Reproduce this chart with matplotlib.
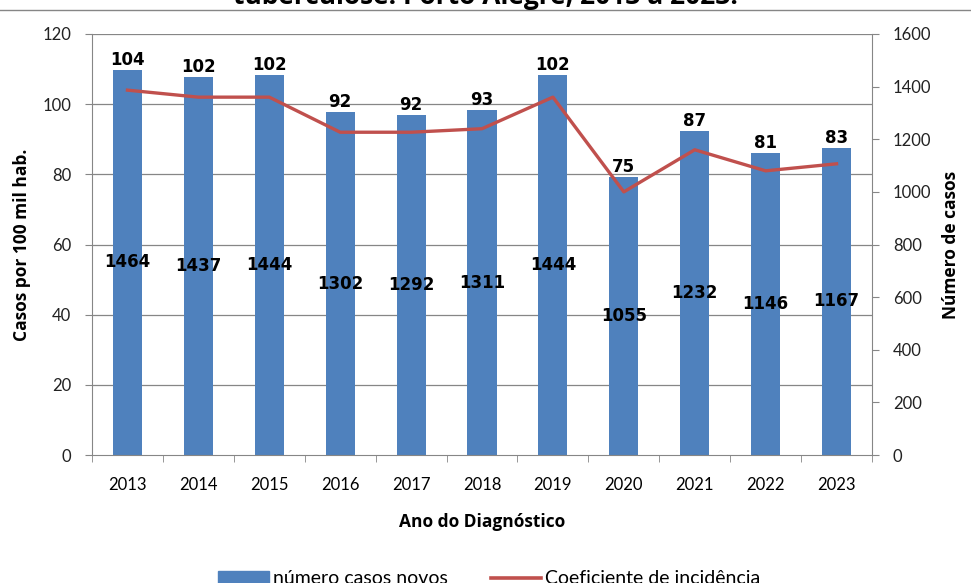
import matplotlib.pyplot as plt

anos = ['2013', '2014', '2015', '2016', '2017', '2018', '2019', '2020', '2021', '2022', '2023']
casos_novos = [1464, 1437, 1444, 1302, 1292, 1311, 1444, 1055, 1232, 1146, 1167]
coeficiente = [104, 102, 102, 92, 92, 93, 102, 75, 87, 81, 83]

azul = '#4F81BD'
vermelho = '#C0504D'
cinza = '#868686'

fig = plt.figure(figsize=(9.71, 5.83), dpi=100)
ax = fig.add_axes([92 / 971, 1 - 455 / 583, 780 / 971, 421 / 583])  # barras (eixo direito)
ax2 = ax.twinx()  # linha (eixo esquerdo)

x = list(range(len(anos)))

# barras
ax.bar(x, casos_novos, width=0.41, color=azul, zorder=2)
ax.set_ylim(0, 1600)
ax.set_xlim(-0.5, len(anos) - 0.5)
ax.yaxis.tick_right()
ax.yaxis.set_label_position('right')
ax.set_yticks(range(0, 1601, 200))

# linhas de grade do eixo esquerdo, atras das barras
for v in range(20, 121, 20):
    ax.axhline(v * 1600 / 120, color=cinza, lw=0.9, zorder=0)

# linha do coeficiente
ax2.plot(x, coeficiente, color=vermelho, lw=2.4, zorder=3)
ax2.set_ylim(0, 120)
ax2.yaxis.tick_left()
ax2.yaxis.set_label_position('left')
ax2.set_yticks(range(0, 121, 20))

# rotulos
for i in x:
    ax.text(i, casos_novos[i] + 4, str(coeficiente[i]), ha='center', va='bottom',
            fontsize=12, fontweight='bold', family='DejaVu Sans', zorder=5)
    ax.text(i, casos_novos[i] / 2, str(casos_novos[i]), ha='center', va='center',
            fontsize=12, fontweight='bold', family='DejaVu Sans', zorder=5)

# eixo x com ticks entre categorias
ax.set_xticks(x)
ax.set_xticklabels(anos, fontsize=12, family='Lato')
ax.tick_params(axis='x', length=0, pad=16)
ax.set_xticks([i - 0.5 for i in range(len(anos) + 1)], minor=True)
ax.tick_params(axis='x', which='minor', length=5, color=cinza, direction='out')

for a in (ax, ax2):
    for s in a.spines.values():
        s.set_visible(False)
ax.spines['bottom'].set_visible(True)
ax.spines['bottom'].set_color(cinza)
ax2.spines['left'].set_visible(True)
ax2.spines['left'].set_color(cinza)
ax2.spines['right'].set_visible(True)
ax2.spines['right'].set_color(cinza)

ax.tick_params(axis='y', length=5, color=cinza, labelsize=12, pad=10)
ax2.tick_params(axis='y', length=5, color=cinza, labelsize=12, pad=10)
for lab in ax.get_yticklabels() + ax2.get_yticklabels():
    lab.set_family('Lato')
    lab.set_color('#222222')

ax2.set_ylabel('Casos por 100 mil hab.', fontsize=12.5, fontweight='bold',
               family='Open Sans', labelpad=8)
ax.set_ylabel('Número de casos', fontsize=12.5, fontweight='bold',
              family='Open Sans', labelpad=8)
ax.set_xlabel('Ano do Diagnóstico', fontsize=12.5, fontweight='bold',
              family='Open Sans', labelpad=14)

# titulo cortado no topo
fig.text(0.5, 1 - 4 / 583, 'tuberculose. Porto Alegre, 2013 a 2023.', ha='center',
         va='baseline', fontsize=19, fontweight='bold', family='Open Sans')
fig.add_artist(plt.Line2D([0, 1], [1 - 9.5 / 583, 1 - 9.5 / 583], color=cinza, lw=1))

# legenda na parte inferior (parcialmente cortada)
h1 = plt.Rectangle((0, 0), 1, 1, color=azul)
h2 = plt.Line2D([], [], color=vermelho, lw=2.6)
fig.legend([h1, h2], ['número casos novos', 'Coeficiente de incidência'],
           loc='center', bbox_to_anchor=(0.504, 1 - 579 / 583), ncol=2, frameon=False,
           prop={'family': 'Lato', 'size': 14}, columnspacing=2.2, handlelength=2.6,
           handletextpad=0.2)

fig.savefig('out.png', dpi=100)
